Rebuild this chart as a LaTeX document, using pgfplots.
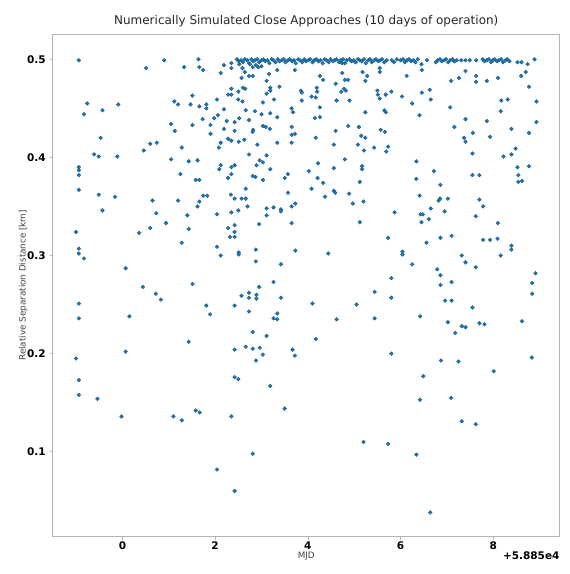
\documentclass[border=0pt]{standalone}
\usepackage{fontspec}
\setmainfont{DejaVu Sans}
\usepackage{pgfplots}
\pgfplotsset{compat=1.18}
\definecolor{c0}{HTML}{1F77B4}
\definecolor{framegray}{HTML}{B4B4B4}

\begin{document}
\begin{tikzpicture}
\begin{axis}[
  name=ax,
  scale only axis,
  width=507bp, height=503bp,
  xmin=-1.5, xmax=9.43,
  ymin=0.0134, ymax=0.5258,
  axis line style={framegray, line width=0.8bp},
  tick style={framegray, line width=0.6bp},
  tick align=outside,
  major tick length=3bp,
  xtick pos=bottom, ytick pos=left,
  xtick={0,2,4,6,8}, xticklabels={0,2,4,6,8},
  ytick={0.1,0.2,0.3,0.4,0.5}, yticklabels={0.1,0.2,0.3,0.4,0.5},
  ticklabel style={font=\bfseries\fontsize{10.5bp}{12bp}\selectfont, text=black},
  xticklabel style={anchor=center, inner sep=0pt, yshift=-6.3bp},
  yticklabel style={anchor=east, inner sep=0pt, xshift=-4bp},
  title={Numerically Simulated Close Approaches (10 days of operation)},
  title style={font=\fontsize{12bp}{14bp}\selectfont, text=black!85, at={(0.5,1)}, anchor=base, inner sep=0pt, yshift=4bp},
  xlabel={MJD},
  ylabel={Relative Separation Distance [km]},
  label style={font=\fontsize{8.8bp}{10bp}\selectfont, text=black!75},
  xlabel style={at={(0.5,0)}, anchor=center, inner sep=0pt, yshift=-19.3bp},
  ylabel style={at={(-0.0585,0.5)}, anchor=center, inner sep=0pt},
]
% close approaches: MJD - 58850 vs. relative separation [km]
\addplot[only marks, mark=*, mark size=1.9bp,
  mark options={fill=c0, draw=c0!75!black, line width=0.35bp}]
coordinates {
% approaches at the 0.5 km cutoff
(2.47,0.500) (2.51,0.498) (2.56,0.499) (2.60,0.497) (2.64,0.500) (2.69,0.499)
(2.73,0.496) (2.78,0.500) (2.82,0.498) (2.86,0.499) (2.91,0.500) (2.95,0.497)
(3.00,0.499) (3.04,0.500) (3.08,0.498) (3.13,0.499) (3.17,0.496) (3.22,0.500)
(3.26,0.499) (3.30,0.497) (3.35,0.500) (3.39,0.498) (3.44,0.499) (3.48,0.500)
(3.52,0.497) (3.57,0.499) (3.61,0.500) (3.66,0.498) (3.70,0.499) (3.74,0.496)
(3.79,0.500) (3.83,0.499) (3.88,0.497) (3.92,0.500) (3.96,0.498) (4.01,0.499)
(4.05,0.500) (4.10,0.497) (4.14,0.499) (4.18,0.500) (4.23,0.498) (4.27,0.499)
(4.32,0.496) (4.36,0.500) (4.40,0.499) (4.45,0.497) (4.49,0.500) (4.54,0.498)
(4.58,0.499) (4.62,0.500) (4.67,0.497) (4.71,0.499) (4.76,0.500) (4.80,0.496)
(4.84,0.499)
(4.90,0.500) (4.94,0.498) (4.99,0.499) (5.03,0.497) (5.08,0.500) (5.12,0.499)
(5.16,0.498) (5.21,0.500) (5.25,0.496) (5.30,0.499) (5.34,0.500) (5.38,0.497)
(5.43,0.499) (5.47,0.500) (5.52,0.498) (5.56,0.499) (5.60,0.500) (5.65,0.497)
(5.70,0.499)
(5.81,0.499) (5.86,0.497) (5.92,0.500)
(6.00,0.499) (6.05,0.500) (6.09,0.497) (6.14,0.499) (6.18,0.500) (6.23,0.498)
(6.28,0.499) (6.32,0.497) (6.37,0.500)
(6.57,0.499)
(6.76,0.497) (6.80,0.499) (6.85,0.500) (6.89,0.498) (6.94,0.499) (6.98,0.500)
(7.03,0.497) (7.07,0.499) (7.12,0.500) (7.16,0.498) (7.21,0.499)
(7.31,0.499) (7.40,0.499) (7.49,0.499) (7.63,0.499)
(7.77,0.500) (7.81,0.498) (7.86,0.499) (7.90,0.500) (7.95,0.497) (7.99,0.499)
(8.03,0.500) (8.08,0.498) (8.12,0.499) (8.17,0.500) (8.21,0.497) (8.26,0.499)
(8.30,0.500) (8.35,0.498)
(8.52,0.497) (8.61,0.497) (8.74,0.495) (8.89,0.500)
(-0.94,0.499) (0.90,0.499) (1.64,0.500)
% early approaches
(-0.76,0.455) (-0.83,0.444) (-0.43,0.448) (-0.09,0.454) (-0.47,0.420)
(-0.61,0.403) (-0.51,0.401) (-0.11,0.401) (-0.94,0.390) (-0.94,0.387)
(-0.94,0.382) (-0.94,0.367) (-0.51,0.362) (-0.16,0.360) (-0.43,0.346)
(-1.00,0.324) (-0.94,0.307) (-0.94,0.302) (-0.83,0.297) (-0.94,0.251)
(-0.94,0.236) (-1.00,0.195) (-0.94,0.173) (-0.94,0.158) (-0.54,0.154)
(0.51,0.491) (1.33,0.492) (1.66,0.492) (1.12,0.457) (1.20,0.454)
(1.47,0.454) (1.51,0.463) (1.66,0.452) (1.51,0.433) (1.05,0.434)
(1.13,0.427) (0.60,0.414) (0.74,0.415) (0.46,0.407) (1.28,0.410)
(1.05,0.398) (1.43,0.396) (1.62,0.397) (1.25,0.383) (1.58,0.377)
(1.66,0.377) (0.65,0.356) (1.20,0.356) (0.73,0.343) (1.40,0.341)
(1.62,0.350) (1.66,0.355) (0.94,0.333) (0.60,0.328) (1.43,0.327)
(0.36,0.323) (1.28,0.313) (0.07,0.287)
(0.44,0.268) (1.51,0.271) (0.72,0.261) (0.83,0.255) (0.15,0.238)
(0.07,0.202) (-0.02,0.136) (1.10,0.136) (1.28,0.132) (1.58,0.142)
(1.67,0.140) (1.43,0.212) (1.81,0.249) (1.89,0.240)
% days 2 to 4
(1.74,0.489) (2.19,0.494) (2.35,0.496) (2.35,0.491) (2.52,0.495)
(2.59,0.491) (2.64,0.487) (2.75,0.495) (2.81,0.492) (2.88,0.494)
(2.93,0.492) (3.00,0.493) (3.16,0.485) (3.34,0.489) (3.72,0.489)
(2.12,0.486) (2.57,0.481) (2.73,0.483) (2.81,0.483) (3.11,0.478)
(2.35,0.470) (2.60,0.471) (2.65,0.470) (2.50,0.467) (2.28,0.464)
(2.35,0.464) (3.19,0.471) (3.19,0.468) (3.11,0.465) (3.39,0.472)
(3.27,0.459) (2.50,0.459) (2.59,0.457) (3.03,0.456) (2.04,0.459)
(1.81,0.454) (1.81,0.450) (2.19,0.449) (2.66,0.448) (2.86,0.447)
(3.00,0.444) (3.19,0.445) (3.34,0.441) (3.65,0.450) (3.68,0.446)
(3.85,0.468) (3.87,0.466) (3.87,0.458) (4.08,0.462) (4.19,0.471)
(4.20,0.467) (4.17,0.461) (1.98,0.440) (2.06,0.443) (1.73,0.439)
(2.25,0.437) (2.42,0.436) (2.52,0.440) (2.73,0.438) (2.82,0.428)
(2.81,0.426) (3.03,0.432) (3.09,0.431) (3.18,0.429) (2.19,0.429)
(1.90,0.433) (1.90,0.424) (2.42,0.427) (3.65,0.431) (3.65,0.423)
(3.72,0.424) (4.17,0.420) (4.15,0.440) (2.28,0.419) (2.35,0.417)
(2.12,0.415) (2.08,0.410) (2.51,0.416) (2.63,0.418) (2.91,0.413)
(3.34,0.415) (3.65,0.415)
(2.73,0.403) (3.11,0.402) (2.12,0.392) (2.09,0.388) (2.35,0.390)
(2.42,0.392) (2.35,0.383) (2.28,0.379) (2.89,0.392) (2.96,0.397)
(3.03,0.395) (3.19,0.388) (2.81,0.381) (2.87,0.380) (3.03,0.377)
(3.50,0.379) (3.57,0.383) (2.66,0.368) (3.57,0.364) (1.74,0.361)
(1.83,0.361) (2.34,0.362) (2.42,0.358) (2.57,0.358) (2.66,0.358)
(2.70,0.350) (2.50,0.346) (2.35,0.344) (2.04,0.342) (3.11,0.348)
(3.26,0.349) (3.42,0.347) (3.42,0.345) (3.65,0.350) (3.73,0.353)
(3.11,0.341) (2.95,0.332) (2.42,0.331) (2.28,0.328) (2.42,0.324)
(2.32,0.319) (2.42,0.319) (3.65,0.333) (2.04,0.309) (2.12,0.300)
(2.51,0.303) (2.51,0.301) (2.88,0.306) (2.88,0.294) (3.42,0.291)
(3.73,0.305) (4.44,0.302) (4.22,0.394) (4.02,0.386) (4.21,0.379)
(4.33,0.374) (4.08,0.368) (4.37,0.360)
(2.42,0.249) (2.57,0.259) (2.73,0.262) (2.73,0.257) (2.89,0.260)
(2.89,0.256) (2.95,0.268) (3.26,0.273) (3.42,0.257) (2.73,0.243)
(3.34,0.241) (3.26,0.236) (3.34,0.235) (2.81,0.222) (3.11,0.218)
(2.42,0.204) (2.66,0.207) (2.81,0.205) (2.96,0.206) (3.03,0.199)
(2.88,0.193) (3.67,0.204) (3.72,0.198) (2.42,0.176) (2.50,0.174)
(3.19,0.167) (3.50,0.144) (2.35,0.136) (2.81,0.098) (2.04,0.082)
(2.42,0.060)
% days 4 to 7
(4.74,0.496) (4.74,0.486) (5.18,0.487) (5.28,0.483) (5.24,0.478)
(5.55,0.491) (5.55,0.487) (4.80,0.479) (4.87,0.479) (4.26,0.483)
(4.33,0.479) (4.60,0.475) (6.13,0.483) (6.45,0.495) (6.46,0.489)
(4.72,0.467) (4.78,0.470) (4.82,0.468) (4.62,0.458) (4.90,0.458)
(5.50,0.468) (5.51,0.464) (5.55,0.460) (5.68,0.464) (5.80,0.467)
(6.03,0.462) (6.25,0.455) (6.46,0.466) (6.63,0.469) (6.65,0.459)
(4.26,0.451) (4.26,0.441) (5.24,0.446) (5.65,0.448) (5.68,0.446)
(6.41,0.443) (4.87,0.432) (5.10,0.431) (4.60,0.427) (5.57,0.428)
(5.66,0.426) (5.15,0.422) (5.24,0.420) (4.56,0.413) (5.08,0.413)
(5.43,0.410) (5.73,0.411)
(5.21,0.407) (5.69,0.406) (4.80,0.398) (4.56,0.389) (5.17,0.391)
(5.17,0.388) (6.34,0.396) (6.72,0.386) (6.34,0.378) (5.12,0.375)
(6.86,0.372) (4.56,0.366) (4.59,0.364) (4.89,0.363) (4.97,0.353)
(5.20,0.355) (6.41,0.361) (6.82,0.356) (6.85,0.358) (7.02,0.358)
(5.87,0.344) (6.65,0.348) (6.95,0.345) (6.43,0.342) (6.48,0.342)
(6.61,0.337) (6.45,0.334) (5.12,0.334) (5.73,0.318) (6.56,0.313)
(6.86,0.318) (7.10,0.320) (6.04,0.304) (6.04,0.301) (6.25,0.291)
(5.80,0.277) (6.79,0.286) (6.86,0.280)
(6.86,0.270) (7.10,0.273) (5.44,0.263) (5.80,0.257) (4.10,0.251)
(5.05,0.250) (6.96,0.254) (7.10,0.254) (7.55,0.247) (4.62,0.235)
(5.44,0.236) (6.42,0.238) (7.02,0.232) (7.32,0.228) (7.40,0.227)
(7.70,0.231) (7.81,0.230) (7.18,0.221) (4.17,0.215) (5.80,0.200)
(6.87,0.193) (7.25,0.192) (6.49,0.177) (6.42,0.153) (7.09,0.155)
(7.32,0.131) (7.62,0.128) (5.20,0.110) (5.73,0.108) (6.34,0.097)
(6.64,0.038)
% days 7 to 9
(7.40,0.488) (8.70,0.487) (8.60,0.483) (7.09,0.478) (7.26,0.481)
(7.63,0.483) (7.63,0.477) (7.86,0.478) (8.10,0.481) (8.77,0.472)
(8.17,0.458) (8.31,0.459) (8.93,0.457) (7.07,0.451) (8.16,0.447)
(7.40,0.439) (7.86,0.437) (8.93,0.436) (7.16,0.431) (8.39,0.429)
(7.56,0.425) (8.77,0.425) (7.37,0.420) (7.93,0.421) (7.40,0.416)
(8.48,0.409) (7.55,0.404) (8.39,0.403) (8.22,0.401)
(8.52,0.390) (8.77,0.391) (8.54,0.382) (8.54,0.375) (8.62,0.376)
(7.55,0.382) (7.70,0.382) (7.70,0.357) (7.78,0.350) (7.62,0.340)
(8.10,0.333) (7.78,0.316) (7.93,0.316) (8.09,0.317) (8.39,0.310)
(8.39,0.306) (8.16,0.300) (7.32,0.300) (7.40,0.293) (7.62,0.288)
(8.91,0.282) (8.84,0.272) (8.84,0.261) (8.62,0.233) (8.83,0.196)
(8.01,0.182)
};
\end{axis}
% offset of the time axis
\node[anchor=east, inner sep=0pt, font=\bfseries\fontsize{10.5bp}{12bp}\selectfont]
  at ([yshift=-19.3bp]ax.south east) {+5.885e4};
% page margins around the axes
\path ([shift={(-52.9bp,-37.3bp)}]ax.south west) rectangle ([shift={(9.9bp,34bp)}]ax.north east);
\end{tikzpicture}
\end{document}
